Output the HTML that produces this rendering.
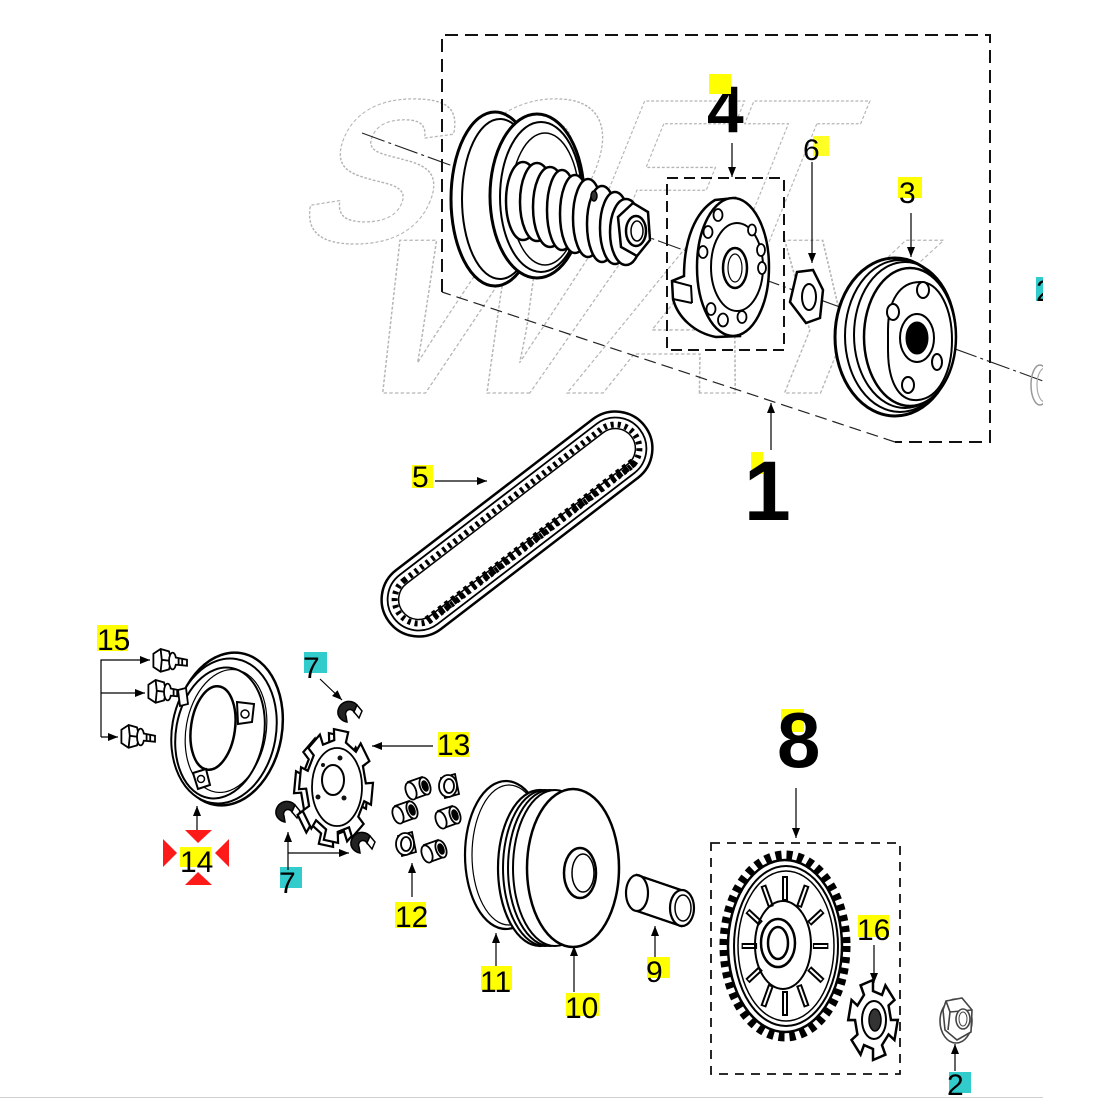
<!DOCTYPE html>
<html><head><meta charset="utf-8"><style>
html,body{margin:0;padding:0;background:#fff;}
svg{display:block;}
text{font-family:"Liberation Sans",Arial,sans-serif;}
</style></head><body>
<svg width="1100" height="1100" viewBox="0 0 1100 1100" xmlns="http://www.w3.org/2000/svg">
<defs>
<marker id="ar" markerWidth="10" markerHeight="8" refX="10" refY="4" orient="auto" markerUnits="userSpaceOnUse"><path d="M0,0 L10,4 L0,8 z" fill="#000"/></marker>
<clipPath id="clipR"><rect x="0" y="0" width="1043" height="1097"/></clipPath>
<g id="bolt" stroke="#000" stroke-width="1.5" fill="#fff">
<path d="M-8,-6 L-2,-10 L5,-8 L7,0 L5,7 L-2,9 L-8,5 Z"/>
<path d="M-2,-10 L-1,-1 L-2,9 M-1,-1 L7,0" fill="none"/>
<ellipse cx="8" cy="0" rx="3" ry="7"/>
<path d="M10,-3 L20,-1 L20,4 L10,3"/>
<path d="M13,-2.5 L13,3.5 M16,-2 L16,4" fill="none"/>
</g>
<g id="rollA" stroke="#000" stroke-width="1.8" fill="#fff">
<path d="M-10,-5 L4,-10 L10,7 L-4,12 Z"/>
<ellipse cx="-7" cy="4" rx="5" ry="9" transform="rotate(-20 -7 4)"/>
<ellipse cx="7" cy="-1" rx="5" ry="9" transform="rotate(-20 7 -1)"/>
<ellipse cx="7" cy="-1" rx="2.5" ry="5" fill="#000" transform="rotate(-20 7 -1)"/>
</g>
<g id="rollB" stroke="#000" stroke-width="1.8" fill="#fff">
<path d="M-8,-8 L6,-12 L10,8 L-4,12 Z"/>
<ellipse cx="-1" cy="0" rx="9" ry="11"/>
<ellipse cx="0" cy="0" rx="5" ry="7"/>
</g>
<g id="sl" stroke="#000" stroke-width="1.5">
<path d="M-11,2 A11,11 0 0 1 8,-7 L5,0 A4,4 0 0 0 -3,4 L-2,10 A11,11 0 0 1 -11,2 Z" fill="#222"/>
<path d="M8,-7 L13,-1 L10,6 L5,0 Z" fill="#fff"/>
</g>
</defs>
<rect width="1100" height="1100" fill="#fff"/>
<line x1="0" y1="1097.5" x2="1043" y2="1097.5" stroke="#d0d0d0" stroke-width="1"/>
<g clip-path="url(#clipR)">

<!-- watermark -->
<g fill="none" stroke="#b5b5b5" stroke-width="1.3" stroke-dasharray="3 2" font-weight="bold">
<text transform="translate(290,242) skewX(-22)" x="0" y="0" font-size="205" textLength="525" lengthAdjust="spacingAndGlyphs">SOFT</text>
<text transform="translate(338,393) skewX(-22)" x="0" y="0" font-size="222" textLength="548" lengthAdjust="spacingAndGlyphs">WAY</text>
</g>

<!-- axis line -->
<line x1="362" y1="133" x2="1043" y2="381" stroke="#222" stroke-width="1.1" stroke-dasharray="24 4 3 4"/>

<!-- group 1 box -->
<path d="M442,292 L442,35 L990,35 L990,442 L895,442" fill="none" stroke="#111" stroke-width="2" stroke-dasharray="13 7"/>
<path d="M895,442 L442,292" stroke="#222" stroke-width="1.2" stroke-dasharray="12 6" fill="none"/>

<!-- drive pulley with spring -->
<g stroke="#000" fill="#fff">
<ellipse cx="495" cy="199" rx="44" ry="87" stroke-width="3"/>
<ellipse cx="500" cy="199" rx="38" ry="80" stroke-width="2"/>
<ellipse cx="537" cy="196" rx="47" ry="82" stroke-width="3"/>
<ellipse cx="541" cy="197" rx="41" ry="75" stroke-width="2"/>
<ellipse cx="545" cy="199" rx="34" ry="66" stroke-width="1.5" fill="none"/>
<ellipse cx="523" cy="201" rx="17" ry="39" stroke-width="2.5"/>
<ellipse cx="537" cy="202" rx="17" ry="39" stroke-width="2.5"/>
<ellipse cx="550" cy="207" rx="17" ry="40" stroke-width="2.5"/>
<ellipse cx="562" cy="210" rx="15" ry="40" stroke-width="2.5"/>
<ellipse cx="575" cy="214" rx="15" ry="39" stroke-width="2.5"/>
<ellipse cx="588" cy="218" rx="15" ry="39" stroke-width="2.5"/>
<ellipse cx="602" cy="224" rx="15" ry="38" stroke-width="2.5"/>
<ellipse cx="615" cy="228" rx="15" ry="36" stroke-width="2.5"/>
<ellipse cx="626" cy="232" rx="16" ry="33" stroke-width="2.5"/>
<polygon points="633,203 648,212 650,240 637,256 621,247 618,217" stroke-width="2.5"/>
<ellipse cx="636" cy="231" rx="10" ry="15" stroke-width="2.5"/>
<ellipse cx="637" cy="231" rx="6" ry="10" stroke-width="1.5"/>
<ellipse cx="594" cy="196" rx="3" ry="5" stroke-width="1.5" fill="#333"/>
</g>

<!-- group 4 -->
<text x="707" y="132" font-size="66" font-weight="bold" fill="#000">4</text>
<rect x="709" y="74" width="22" height="20" fill="#ffff00"/>
<line x1="732" y1="143" x2="732" y2="177" stroke="#000" stroke-width="1.2" marker-end="url(#ar)"/>
<rect x="667" y="178" width="117" height="172" fill="none" stroke="#111" stroke-width="2" stroke-dasharray="11 6"/>
<g stroke="#000" fill="#fff">
<path d="M715,200 C695,212 684,240 684,276 L672,281 L673,299 C678,318 695,333 716,337 L740,336 L735,198 Z" stroke-width="2.5"/>
<path d="M672,281 L691,286 L692,303 M673,299 L692,303" fill="none" stroke-width="2"/>
<ellipse cx="733" cy="267" rx="36" ry="69" stroke-width="2.5"/>
<ellipse cx="737" cy="267" rx="26" ry="44" stroke-width="2"/>
<ellipse cx="735" cy="268" rx="12" ry="20" stroke-width="2.5"/>
<ellipse cx="735" cy="268" rx="7" ry="14" stroke-width="1.2"/>
<g stroke-width="1.8">
<ellipse cx="718" cy="215" rx="4.5" ry="6"/>
<ellipse cx="708" cy="232" rx="4.5" ry="6"/>
<ellipse cx="703" cy="252" rx="4.5" ry="6"/>
<ellipse cx="752" cy="230" rx="4" ry="5.5"/>
<ellipse cx="761" cy="250" rx="4" ry="6"/>
<ellipse cx="762" cy="268" rx="4" ry="6"/>
<ellipse cx="742" cy="317" rx="4.5" ry="6"/>
<ellipse cx="723" cy="320" rx="5" ry="6.5"/>
<ellipse cx="711" cy="309" rx="4.5" ry="6"/>
</g>
</g>

<!-- washer 6 -->
<rect x="813" y="136" width="16" height="20" fill="#ffff00" opacity="0.85"/>
<text x="803" y="160" font-size="30" fill="#000">6</text>
<line x1="812" y1="162" x2="812" y2="263" stroke="#000" stroke-width="1.2" marker-end="url(#ar)"/>
<polygon points="797,272 813,270 823,290 820,318 806,323 790,302" fill="#fff" stroke="#000" stroke-width="2.5"/>
<ellipse cx="809" cy="297" rx="7" ry="13" fill="#fff" stroke="#000" stroke-width="2"/>

<!-- clutch bell 3 -->
<rect x="898" y="177" width="24" height="21" fill="#ffff00"/>
<text x="899" y="203" font-size="30" fill="#000">3</text>
<line x1="911" y1="213" x2="911" y2="257" stroke="#000" stroke-width="1.2" marker-end="url(#ar)"/>
<g stroke="#000" fill="#fff">
<ellipse cx="895" cy="337" rx="60" ry="79" stroke-width="3"/>
<ellipse cx="900" cy="336" rx="55" ry="76" stroke-width="2" fill="none"/>
<ellipse cx="905" cy="335" rx="51" ry="73" stroke-width="2" fill="none"/>
<ellipse cx="910" cy="337" rx="46" ry="69" stroke-width="2.5"/>
<path d="M920,282 C940,282 952,310 952,340 C952,370 940,398 918,400 C898,402 888,380 888,350 L888,330 C888,300 900,282 920,282 Z" stroke-width="2"/>
<ellipse cx="917" cy="338" rx="17" ry="24" stroke-width="2"/>
<ellipse cx="917" cy="338" rx="11" ry="16" fill="#000" stroke-width="1"/>
<g stroke-width="2">
<ellipse cx="923" cy="290" rx="6" ry="8"/>
<ellipse cx="893" cy="312" rx="6" ry="8"/>
<ellipse cx="908" cy="385" rx="6" ry="8"/>
<ellipse cx="937" cy="362" rx="5" ry="8"/>
</g>
</g>

<!-- right partial washer & 2 -->
<ellipse cx="1040" cy="385" rx="9" ry="20" fill="none" stroke="#999" stroke-width="1.5"/>
<ellipse cx="1045" cy="385" rx="8" ry="17" fill="none" stroke="#aaa" stroke-width="1.2"/>
<rect x="1036" y="277" width="20" height="24" fill="#33cccc"/>
<text x="1036" y="301" font-size="30" fill="#000">2</text>

<!-- label 1 -->
<line x1="771" y1="450" x2="771" y2="403" stroke="#000" stroke-width="1.2" marker-end="url(#ar)"/>
<rect x="751" y="452" width="12" height="22" fill="#ffff00"/>
<text x="744" y="520" font-size="84" font-weight="bold" fill="#000">1</text>

<!-- belt 5 -->
<g transform="translate(517,524) rotate(-37.5)" fill="none" stroke="#000">
<rect x="-161" y="-37" width="322" height="74" rx="37" stroke-width="2.5"/>
<rect x="-155" y="-31" width="310" height="62" rx="31" stroke-width="1.8"/>
<rect x="-148" y="-24" width="296" height="48" rx="24" stroke-width="6" stroke-dasharray="3 4"/>
<path d="M-130,22 L130,22" stroke-width="9" stroke-dasharray="4 4"/>
<rect x="-144" y="-20" width="288" height="40" rx="20" stroke-width="1.5"/>
</g>
<rect x="412" y="465" width="21" height="23" fill="#ffff00"/>
<text x="412" y="487" font-size="30" fill="#000">5</text>
<line x1="435" y1="481" x2="487" y2="481" stroke="#000" stroke-width="1.2" marker-end="url(#ar)"/>

<!-- 15 bolts -->
<rect x="97" y="625" width="31" height="26" fill="#ffff00"/>
<text x="97" y="650" font-size="30" fill="#000">15</text>
<polyline points="101,737 101,660 150,660" fill="none" stroke="#000" stroke-width="1.2" marker-end="url(#ar)"/>
<line x1="101" y1="693" x2="145" y2="693" stroke="#000" stroke-width="1.2" marker-end="url(#ar)"/>
<line x1="101" y1="737" x2="118" y2="737" stroke="#000" stroke-width="1.2" marker-end="url(#ar)"/>
<use href="#bolt" transform="translate(163,661) scale(1.2)"/>
<use href="#bolt" transform="translate(158,692) scale(1.2)"/>
<use href="#bolt" transform="translate(131,737) scale(1.2)"/>

<!-- cover 14 -->
<g stroke="#000" fill="#fff">
<ellipse cx="228" cy="729" rx="54" ry="77" transform="rotate(10 228 729)" stroke-width="2.5"/>
<ellipse cx="224" cy="731" rx="52" ry="73" transform="rotate(10 224 731)" stroke-width="2"/>
<ellipse cx="220" cy="733" rx="44" ry="66" transform="rotate(10 220 733)" stroke-width="2"/>
<ellipse cx="226" cy="731" rx="40" ry="62" transform="rotate(10 226 731)" stroke-width="1.2" fill="none"/>
<ellipse cx="213" cy="728" rx="22" ry="42" transform="rotate(8 213 728)" stroke-width="2.5"/>
<path d="M237,702 L254,704 L252,722 L238,724 Z" stroke-width="2"/>
<circle cx="245" cy="714" r="4" stroke-width="1.5"/>
<path d="M193,773 L206,769 L210,785 L198,789 Z" stroke-width="2"/>
<circle cx="201" cy="779" r="3.5" stroke-width="1.5"/>
<path d="M178,690 L186,688 L188,704 L180,706 Z" stroke-width="1.8"/>
</g>
<line x1="197" y1="830" x2="197" y2="806" stroke="#000" stroke-width="1.2" marker-end="url(#ar)"/>
<polygon points="185,830 212,830 198,843" fill="#ff1a1a"/>
<polygon points="185,885 212,885 198,872" fill="#ff1a1a"/>
<polygon points="163,839 163,867 177,853" fill="#ff1a1a"/>
<polygon points="229,839 229,867 215,853" fill="#ff1a1a"/>
<rect x="180" y="847" width="31" height="20" fill="#ffff00"/>
<text x="180" y="872" font-size="30" fill="#000">14</text>

<!-- sliders 7 -->
<rect x="304" y="652" width="23" height="21" fill="#33cccc"/>
<text x="303" y="678" font-size="30" fill="#000">7</text>
<line x1="320" y1="679" x2="342" y2="700" stroke="#000" stroke-width="1.2" marker-end="url(#ar)"/>
<use href="#sl" x="349" y="712"/>
<use href="#sl" x="287" y="812"/>
<use href="#sl" x="362" y="843"/>
<rect x="280" y="867" width="22" height="21" fill="#33cccc"/>
<text x="279" y="893" font-size="30" fill="#000">7</text>
<line x1="288" y1="870" x2="288" y2="832" stroke="#000" stroke-width="1.2" marker-end="url(#ar)"/>
<line x1="288" y1="853" x2="349" y2="853" stroke="#000" stroke-width="1.2" marker-end="url(#ar)"/>

<!-- ramp plate 13 -->
<g stroke="#000" fill="#fff" stroke-width="2.2">
<polygon transform="translate(331,790) scale(0.65,1) rotate(8)" vector-effect="non-scaling-stroke" points="45.1,-9 55.9,-11.1 55.9,11.1 45.1,9 38.2,25.6 47.4,31.7 31.7,47.4 25.6,38.2 9,45.1 11.1,55.9 -11.1,55.9 -9,45.1 -25.6,38.2 -31.7,47.4 -47.4,31.7 -38.2,25.6 -45.1,9 -55.9,11.1 -55.9,-11.1 -45.1,-9 -38.2,-25.6 -47.4,-31.7 -31.7,-47.4 -25.6,-38.2 -9,-45.1 -11.1,-55.9 11.1,-55.9 9,-45.1 25.6,-38.2 31.7,-47.4 47.4,-31.7 38.2,-25.6"/>
<polygon transform="translate(336,786) scale(0.65,1) rotate(8)" vector-effect="non-scaling-stroke" points="45.1,-9 55.9,-11.1 55.9,11.1 45.1,9 38.2,25.6 47.4,31.7 31.7,47.4 25.6,38.2 9,45.1 11.1,55.9 -11.1,55.9 -9,45.1 -25.6,38.2 -31.7,47.4 -47.4,31.7 -38.2,25.6 -45.1,9 -55.9,11.1 -55.9,-11.1 -45.1,-9 -38.2,-25.6 -47.4,-31.7 -31.7,-47.4 -25.6,-38.2 -9,-45.1 -11.1,-55.9 11.1,-55.9 9,-45.1 25.6,-38.2 31.7,-47.4 47.4,-31.7 38.2,-25.6"/>
<ellipse cx="337" cy="787" rx="25" ry="39" stroke-width="1.8"/>
<ellipse cx="333" cy="780" rx="11" ry="15" stroke-width="2"/>
</g>
<g fill="#111">
<circle cx="340" cy="758" r="2.5"/><circle cx="318" cy="797" r="2.5"/><circle cx="344" cy="798" r="2.5"/><circle cx="323" cy="765" r="2"/>
</g>
<rect x="438" y="732" width="31" height="25" fill="#ffff00"/>
<text x="437" y="755" font-size="30" fill="#000">13</text>
<line x1="433" y1="746" x2="372" y2="746" stroke="#000" stroke-width="1.2" marker-end="url(#ar)"/>

<!-- rollers 12 -->
<use href="#rollA" x="418" y="787"/>
<use href="#rollB" x="449" y="786"/>
<use href="#rollA" x="405" y="811"/>
<use href="#rollA" x="448" y="816"/>
<use href="#rollB" x="406" y="844"/>
<use href="#rollA" x="434" y="850"/>
<rect x="395" y="902" width="31" height="26" fill="#ffff00"/>
<text x="395" y="927" font-size="30" fill="#000">12</text>
<line x1="412" y1="897" x2="412" y2="863" stroke="#000" stroke-width="1.2" marker-end="url(#ar)"/>

<!-- O-ring 11 and pulley 10 -->
<g stroke="#000" fill="none">
<ellipse cx="506" cy="855" rx="41" ry="74" stroke-width="2.2"/>
<ellipse cx="509" cy="855" rx="37" ry="70" stroke-width="1.2"/>
</g>
<g stroke="#000" fill="#fff">
<ellipse cx="540" cy="868" rx="42" ry="78" stroke-width="2.2"/>
<ellipse cx="545" cy="868" rx="42" ry="78" stroke-width="2"/>
<ellipse cx="550" cy="868" rx="42" ry="78" stroke-width="2"/>
<ellipse cx="555" cy="868" rx="42" ry="78" stroke-width="2"/>
<ellipse cx="573" cy="868" rx="46" ry="79" stroke-width="2.5"/>
<ellipse cx="580" cy="873" rx="16" ry="25" stroke-width="2.5"/>
<ellipse cx="583" cy="873" rx="11" ry="19" stroke-width="1.5"/>
</g>
<rect x="481" y="966" width="31" height="24" fill="#ffff00"/>
<text x="480" y="992" font-size="30" fill="#000">11</text>
<line x1="496" y1="966" x2="496" y2="933" stroke="#000" stroke-width="1.2" marker-end="url(#ar)"/>
<rect x="566" y="993" width="33" height="23" fill="#ffff00"/>
<text x="565" y="1018" font-size="30" fill="#000">10</text>
<line x1="574" y1="992" x2="574" y2="946" stroke="#000" stroke-width="1.2" marker-end="url(#ar)"/>

<!-- spacer 9 -->
<g stroke="#000" fill="#fff" stroke-width="2.2">
<path d="M637,875 L681,890 L681,926 L637,911 Z"/>
<ellipse cx="637" cy="893" rx="11" ry="18"/>
<path d="M637,875 L681,890 M637,911 L681,926" fill="none"/>
<ellipse cx="682" cy="908" rx="12" ry="18"/>
<ellipse cx="683" cy="908" rx="8" ry="13" stroke-width="1.5"/>
</g>
<rect x="647" y="957" width="23" height="21" fill="#ffff00"/>
<text x="646" y="982" font-size="30" fill="#000">9</text>
<line x1="655" y1="957" x2="655" y2="926" stroke="#000" stroke-width="1.2" marker-end="url(#ar)"/>

<!-- group 8 -->
<rect x="781" y="709" width="23" height="23" fill="#ffff00"/>
<text x="777" y="767" font-size="78" font-weight="bold" fill="#000">8</text>
<line x1="796" y1="788" x2="796" y2="838" stroke="#000" stroke-width="1.2" marker-end="url(#ar)"/>
<rect x="711" y="843" width="189" height="231" fill="none" stroke="#111" stroke-width="1.8" stroke-dasharray="9 7"/>
<g stroke="#000" fill="#fff">
<ellipse cx="785" cy="946" rx="61" ry="91" stroke-width="9" stroke-dasharray="6 5" fill="none"/>
<ellipse cx="785" cy="946" rx="57" ry="86" stroke-width="2.5"/>
<ellipse cx="786" cy="946" rx="52" ry="80" stroke-width="2"/>
<ellipse cx="786" cy="946" rx="48" ry="75" stroke-width="1.5"/>
<g transform="translate(785,946) scale(0.62,1)">
<g stroke-width="6">
<line x1="45" y1="0" x2="70" y2="0" vector-effect="non-scaling-stroke"/>
<line x1="39" y1="22.5" x2="60.6" y2="35" vector-effect="non-scaling-stroke"/>
<line x1="22.5" y1="39" x2="35" y2="60.6" vector-effect="non-scaling-stroke"/>
<line x1="0" y1="45" x2="0" y2="70" vector-effect="non-scaling-stroke"/>
<line x1="-22.5" y1="39" x2="-35" y2="60.6" vector-effect="non-scaling-stroke"/>
<line x1="-39" y1="22.5" x2="-60.6" y2="35" vector-effect="non-scaling-stroke"/>
<line x1="-45" y1="0" x2="-70" y2="0" vector-effect="non-scaling-stroke"/>
<line x1="-39" y1="-22.5" x2="-60.6" y2="-35" vector-effect="non-scaling-stroke"/>
<line x1="-22.5" y1="-39" x2="-35" y2="-60.6" vector-effect="non-scaling-stroke"/>
<line x1="0" y1="-45" x2="0" y2="-70" vector-effect="non-scaling-stroke"/>
<line x1="22.5" y1="-39" x2="35" y2="-60.6" vector-effect="non-scaling-stroke"/>
<line x1="39" y1="-22.5" x2="60.6" y2="-35" vector-effect="non-scaling-stroke"/>
</g>
<g stroke="#fff" stroke-width="2">
<line x1="47" y1="0" x2="68" y2="0" vector-effect="non-scaling-stroke"/>
<line x1="40.7" y1="23.5" x2="58.9" y2="34" vector-effect="non-scaling-stroke"/>
<line x1="23.5" y1="40.7" x2="34" y2="58.9" vector-effect="non-scaling-stroke"/>
<line x1="0" y1="47" x2="0" y2="68" vector-effect="non-scaling-stroke"/>
<line x1="-23.5" y1="40.7" x2="-34" y2="58.9" vector-effect="non-scaling-stroke"/>
<line x1="-40.7" y1="23.5" x2="-58.9" y2="34" vector-effect="non-scaling-stroke"/>
<line x1="-47" y1="0" x2="-68" y2="0" vector-effect="non-scaling-stroke"/>
<line x1="-40.7" y1="-23.5" x2="-58.9" y2="-34" vector-effect="non-scaling-stroke"/>
<line x1="-23.5" y1="-40.7" x2="-34" y2="-58.9" vector-effect="non-scaling-stroke"/>
<line x1="0" y1="-47" x2="0" y2="-68" vector-effect="non-scaling-stroke"/>
<line x1="23.5" y1="-40.7" x2="34" y2="-58.9" vector-effect="non-scaling-stroke"/>
<line x1="40.7" y1="-23.5" x2="58.9" y2="-34" vector-effect="non-scaling-stroke"/>
</g>
</g>
<ellipse cx="783" cy="945" rx="28" ry="44" stroke-width="2" fill="none"/>
<ellipse cx="778" cy="943" rx="17" ry="24" stroke-width="2.5"/>
<ellipse cx="778" cy="943" rx="10" ry="16" stroke-width="2.5"/>
</g>

<!-- part 16 -->
<rect x="858" y="915" width="31" height="22" fill="#ffff00"/>
<text x="857" y="940" font-size="30" fill="#000">16</text>
<line x1="874" y1="945" x2="874" y2="983" stroke="#000" stroke-width="1.2" marker-end="url(#ar)"/>
<polygon transform="translate(873,1020) scale(0.62,1) rotate(15)" vector-effect="non-scaling-stroke" fill="#fff" stroke="#000" stroke-width="2.5" points="28,-7.5 38.6,-10.4 38.6,10.4 28,7.5 20.5,20.5 28.3,28.3 10.4,38.6 7.5,28 -7.5,28 -10.4,38.6 -28.3,28.3 -20.5,20.5 -28,7.5 -38.6,10.4 -38.6,-10.4 -28,-7.5 -20.5,-20.5 -28.3,-28.3 -10.4,-38.6 -7.5,-28 7.5,-28 10.4,-38.6 28.3,-28.3 20.5,-20.5"/>
<ellipse cx="874" cy="1020" rx="12" ry="19" fill="none" stroke="#000" stroke-width="2"/>
<ellipse cx="875" cy="1020" rx="6" ry="11" fill="#333" stroke="#000" stroke-width="1.5"/>

<!-- nut 2 -->
<g stroke="#444" fill="#fff" stroke-width="1.6">
<ellipse cx="956" cy="1021" rx="16" ry="22"/>
<polygon points="946,1001 962,998 972,1010 971,1032 957,1040 945,1030 943,1010"/>
<path d="M946,1001 L950,1012 L948,1030 M950,1012 L972,1010" fill="none"/>
<ellipse cx="963" cy="1019" rx="7" ry="10"/>
<ellipse cx="963" cy="1019" rx="4" ry="7" stroke-width="1"/>
</g>
<rect x="949" y="1072" width="22" height="21" fill="#33cccc"/>
<text x="947" y="1095" font-size="30" fill="#000">2</text>
<line x1="955" y1="1071" x2="955" y2="1044" stroke="#000" stroke-width="1.2" marker-end="url(#ar)"/>

</g>
</svg>
</body></html>
